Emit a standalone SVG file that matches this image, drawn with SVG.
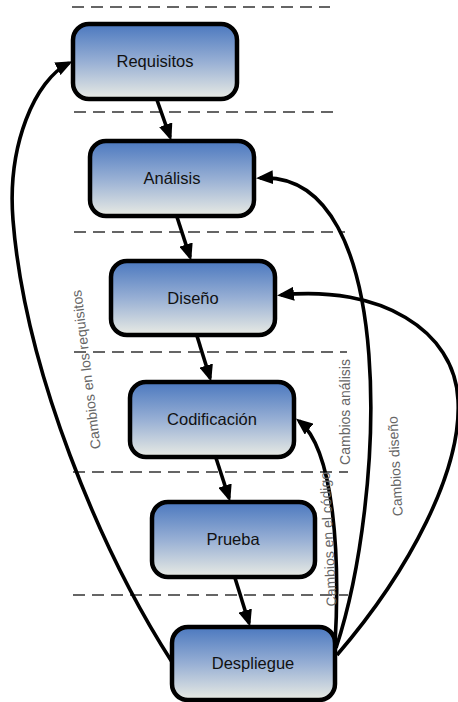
<svg xmlns="http://www.w3.org/2000/svg" width="458" height="702" viewBox="0 0 458 702">
<defs>
<linearGradient id="g" x1="0" y1="0" x2="0" y2="1">
<stop offset="0" stop-color="#4b78bf"/>
<stop offset="0.5" stop-color="#97afd4"/>
<stop offset="1" stop-color="#e9ebe4"/>
</linearGradient>
<marker id="ah" markerWidth="17" markerHeight="14" refX="13" refY="7" orient="auto" markerUnits="userSpaceOnUse">
<path d="M0,0 L17,7 L0,14 z" fill="#000"/>
</marker>
<style>
.box{fill:url(#g);stroke:#000;stroke-width:4.5}
.lbl{font-family:"Liberation Sans",Arial,sans-serif;font-size:16.5px;fill:#111;text-anchor:middle}
.dash{stroke:#333;stroke-width:1.6;stroke-dasharray:12 7;fill:none}
.con{stroke:#000;stroke-width:3.6;fill:none;marker-end:url(#ah)}
.cl{font-family:"Liberation Sans",Arial,sans-serif;font-size:14px;fill:#666;text-anchor:middle}
</style>
</defs>
<rect width="458" height="702" fill="#fff"/>
<g id="separators">
<line class="dash" x1="72" y1="7" x2="330" y2="7"/>
<line class="dash" x1="74" y1="112" x2="333" y2="112"/>
<line class="dash" x1="74" y1="232" x2="345" y2="232"/>
<line class="dash" x1="74" y1="352" x2="347" y2="352"/>
<line class="dash" x1="73" y1="472" x2="348" y2="472"/>
<line class="dash" x1="73" y1="595" x2="348" y2="595"/>
</g>
<g id="connectors">
<line class="con" x1="157" y1="100" x2="170" y2="137"/>
<line class="con" x1="177" y1="217" x2="190" y2="257"/>
<line class="con" x1="197" y1="336" x2="210" y2="378"/>
<line class="con" x1="216" y1="458" x2="229" y2="498"/>
<line class="con" x1="235" y1="578" x2="249" y2="623"/>
<path class="con" d="M 172 662 C 100 550, 25 370, 13 220 C 7 145, 35 80, 69 63"/>
<path class="con" d="M 336 648 C 385 500, 400 170, 260 178"/>
<path class="con" d="M 337 655 C 410 570, 462 470, 458 400 C 455 330, 380 285, 281 295"/>
<path class="con" d="M 335 645 C 340 560, 335 450, 299 421"/>
</g>
<g id="labels">
<text class="cl" transform="translate(91,369) rotate(-97)">Cambios en los requisitos</text>
<text class="cl" transform="translate(350,412) rotate(-90)">Cambios análisis</text>
<text class="cl" transform="translate(400,466) rotate(-93)">Cambios diseño</text>
<text class="cl" transform="translate(333,539) rotate(-93)">Cambios en el código</text>
</g>
<g id="requisitos"><rect class="box" x="73" y="24" width="164" height="75" rx="16"/><text class="lbl" x="155" y="67">Requisitos</text></g>
<g id="analisis"><rect class="box" x="90" y="141" width="164" height="75" rx="16"/><text class="lbl" x="172" y="184">Análisis</text></g>
<g id="diseno"><rect class="box" x="111" y="261" width="164" height="74" rx="16"/><text class="lbl" x="193" y="304">Diseño</text></g>
<g id="codificacion"><rect class="box" x="130" y="382" width="164" height="75" rx="16"/><text class="lbl" x="212" y="425">Codificación</text></g>
<g id="prueba"><rect class="box" x="152" y="502" width="163" height="75" rx="16"/><text class="lbl" x="233" y="545">Prueba</text></g>
<g id="despliegue"><rect class="box" x="172" y="627" width="163" height="73" rx="16"/><text class="lbl" x="253" y="669">Despliegue</text></g>
</svg>
